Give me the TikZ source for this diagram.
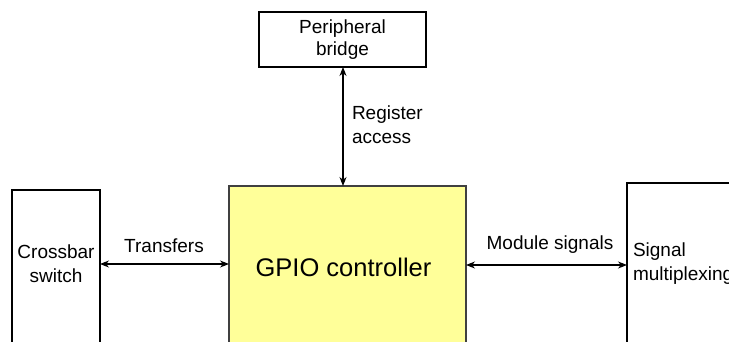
\documentclass[tikz,border=0pt]{standalone}
\usepackage{fontspec}
\setmainfont{Liberation Sans}
\usetikzlibrary{arrows.meta}
\definecolor{gpioyellow}{RGB}{255,255,153}
\begin{document}
\begin{tikzpicture}[x=1pt,y=-1pt,
  box/.style={draw=black,line width=1.1pt,inner sep=0pt,outer sep=0pt},
  lbl/.style={inner sep=0pt,outer sep=0pt,font=\fontsize{19}{23.5}\selectfont},
  conn/.style={line width=1.1pt,{Stealth[length=9pt,width=7pt]}-{Stealth[length=9pt,width=7pt]}}]
\useasboundingbox (0,0) rectangle (729,341);
\clip (0,0) rectangle (729,341);
% boxes
\node[box,minimum width=167pt,minimum height=55pt,align=center,font=\fontsize{19}{22}\selectfont] (pb) at (342.5,39.5) {Peripheral\\bridge};
\node[box,fill=gpioyellow,draw=black!75,minimum width=237pt,minimum height=220pt] (gpio) at (347.5,296) {};
\node[box,minimum width=88pt,minimum height=220pt] (cb) at (56,300) {};
\node[box,minimum width=160pt,minimum height=220pt,anchor=north west] (sm) at (627,183) {};
% texts
\node[lbl,anchor=base] (gpiot) at (343.5,276) {\fontsize{25.5}{30}\selectfont GPIO controller};
\node[lbl,anchor=base,align=center] (cbt) at (56,282) {Crossbar\\switch};
\node[lbl,anchor=base west,align=left] (smt) at (633,280) {Signal\\multiplexing};
% connectors
\coordinate (pbs) at (343,67);
\coordinate (gpion) at (343,186);
\draw[conn] (pbs) -- (gpion);
\coordinate (cbe) at (100,264);
\coordinate (gpiow) at (229,264);
\draw[conn] (cbe) -- (gpiow);
\coordinate (gpioe) at (466,265);
\coordinate (smw) at (627,265);
\draw[conn] (gpioe) -- (smw);
% connector labels
\node[lbl,anchor=base west,align=left] (ra) at (352,143) {Register\\access};
\node[lbl,anchor=base] (tr) at (164,252) {Transfers};
\node[lbl,anchor=base] (ms) at (550,249) {Module signals};
\end{tikzpicture}
\end{document}
